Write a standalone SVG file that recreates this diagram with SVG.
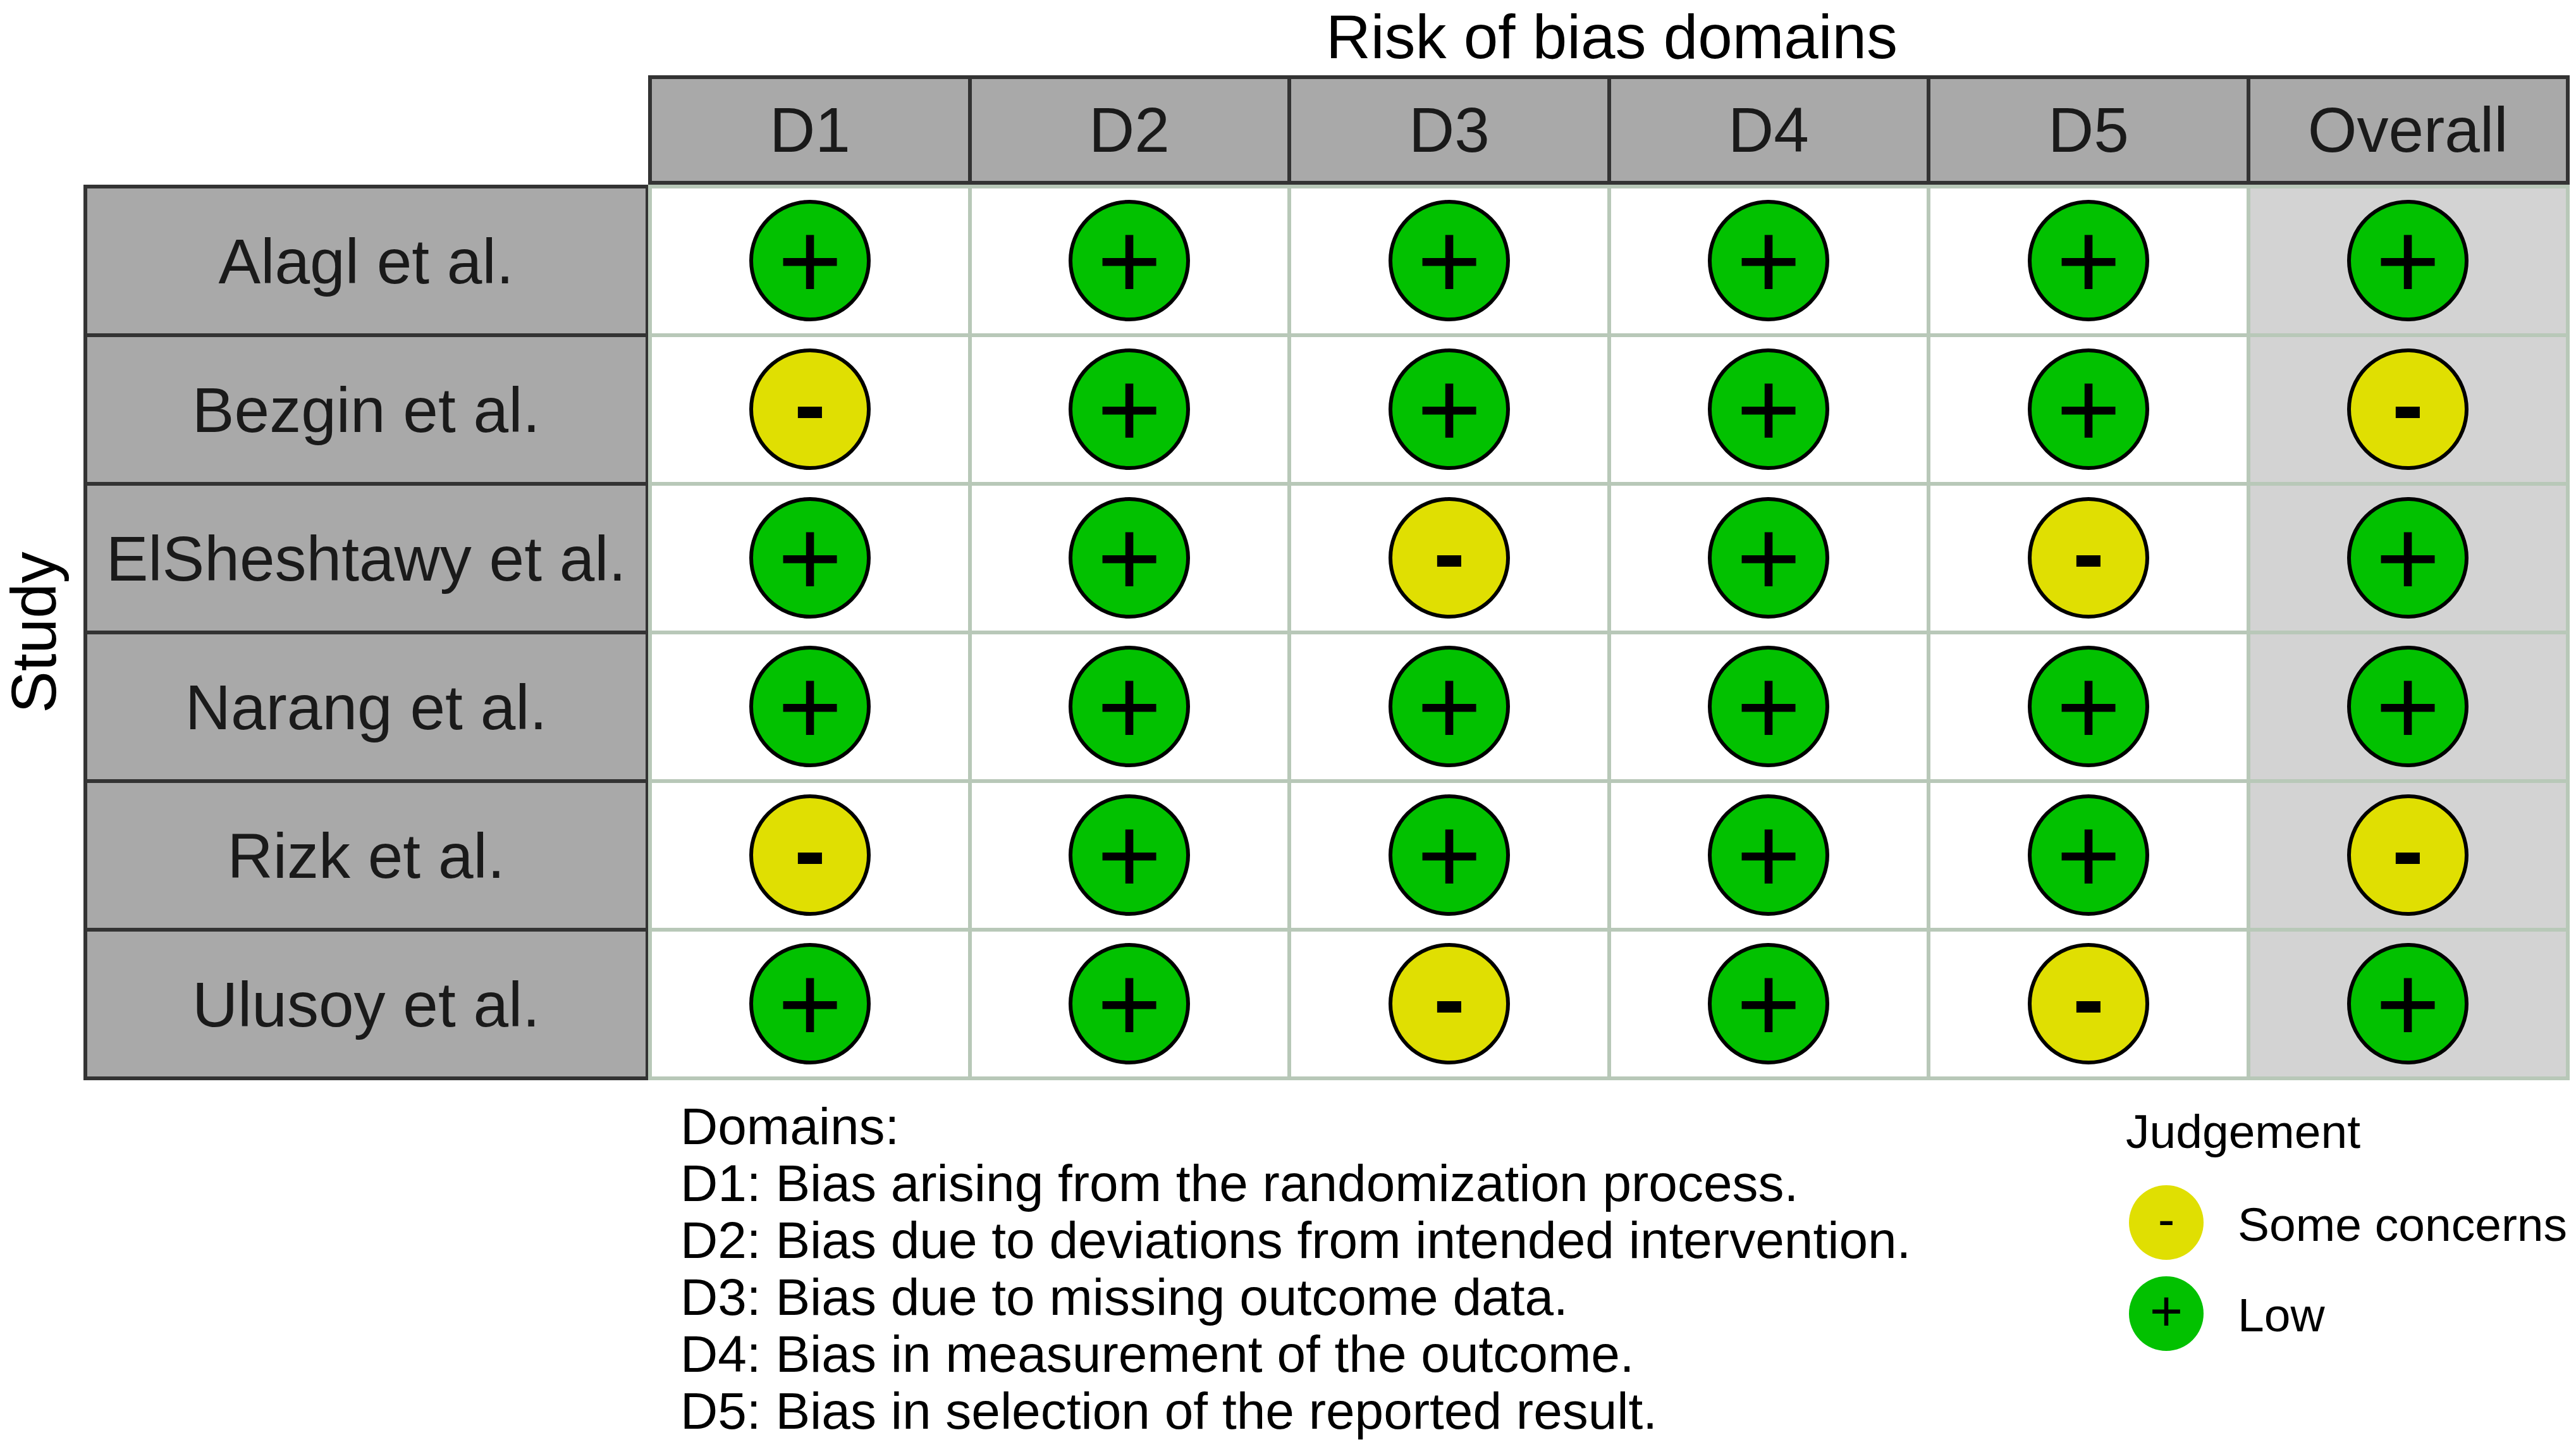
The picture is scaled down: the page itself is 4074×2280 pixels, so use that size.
<svg xmlns="http://www.w3.org/2000/svg" width="4074" height="2280" viewBox="0 0 4074 2280">
<style>
text{font-family:"Liberation Sans",Arial,sans-serif;fill:#1a1a1a}
.hdr{fill:#a9a9a9;stroke:#333;stroke-width:6}
.cell{fill:#fff;stroke:#b8c8b8;stroke-width:6}
.ocell{fill:#d3d3d3;stroke:#b8c8b8;stroke-width:6}
.lbl{font-size:100px;text-anchor:middle}
.g{fill:#02c100;stroke:#000;stroke-width:6}
.y{fill:#e0df02;stroke:#000;stroke-width:6}
.sym{font-size:175px;text-anchor:middle;fill:#000}
.msym{font-size:150px;font-weight:bold;text-anchor:middle;fill:#000}
.leg{font-size:82px;fill:#000}
</style>
<text x="2549" y="92" class="lbl" style="fill:#000;font-size:98px">Risk of bias domains</text>
<text transform="translate(88,1000) rotate(-90)" class="lbl" style="fill:#000;font-size:100px">Study</text>
<g id="headers">
<rect class="hdr" x="1028" y="122" width="506" height="167"/><text class="lbl" x="1281" y="240">D1</text>
<rect class="hdr" x="1534" y="122" width="505" height="167"/><text class="lbl" x="1786" y="240">D2</text>
<rect class="hdr" x="2039" y="122" width="506" height="167"/><text class="lbl" x="2292" y="240">D3</text>
<rect class="hdr" x="2545" y="122" width="505" height="167"/><text class="lbl" x="2797" y="240">D4</text>
<rect class="hdr" x="3050" y="122" width="506" height="167"/><text class="lbl" x="3303" y="240">D5</text>
<rect class="hdr" x="3556" y="122" width="505" height="167"/><text class="lbl" x="3808" y="240">Overall</text>
</g>
<g id="studies">
<rect class="hdr" x="135" y="295" width="889" height="235"/><text class="lbl" x="579" y="448">Alagl et al.</text>
<rect class="hdr" x="135" y="530" width="889" height="235"/><text class="lbl" x="579" y="683">Bezgin et al.</text>
<rect class="hdr" x="135" y="765" width="889" height="235"/><text class="lbl" x="579" y="918">ElSheshtawy et al.</text>
<rect class="hdr" x="135" y="1000" width="889" height="235"/><text class="lbl" x="579" y="1153">Narang et al.</text>
<rect class="hdr" x="135" y="1235" width="889" height="235"/><text class="lbl" x="579" y="1388">Rizk et al.</text>
<rect class="hdr" x="135" y="1470" width="889" height="235"/><text class="lbl" x="579" y="1623">Ulusoy et al.</text>
</g>
<g id="grid">
<rect class="cell" x="1028" y="295" width="2528" height="1410"/>
<rect class="ocell" x="3556" y="295" width="505" height="1410"/>
<path d="M1534 295V1705M2039 295V1705M2545 295V1705M3050 295V1705M1028 530H4061M1028 765H4061M1028 1000H4061M1028 1235H4061M1028 1470H4061" stroke="#b8c8b8" stroke-width="6" fill="none"/>
</g>
<defs>
<g id="P"><circle r="93" class="g"/><text class="sym" y="60">+</text></g>
<g id="M"><circle r="93" class="y"/><text class="msym" y="44">-</text></g>
</defs>
<g id="judgements">
<use href="#P" x="1281" y="412"/><use href="#P" x="1786" y="412"/><use href="#P" x="2292" y="412"/><use href="#P" x="2797" y="412"/><use href="#P" x="3303" y="412"/><use href="#P" x="3808" y="412"/>
<use href="#M" x="1281" y="647"/><use href="#P" x="1786" y="647"/><use href="#P" x="2292" y="647"/><use href="#P" x="2797" y="647"/><use href="#P" x="3303" y="647"/><use href="#M" x="3808" y="647"/>
<use href="#P" x="1281" y="882"/><use href="#P" x="1786" y="882"/><use href="#M" x="2292" y="882"/><use href="#P" x="2797" y="882"/><use href="#M" x="3303" y="882"/><use href="#P" x="3808" y="882"/>
<use href="#P" x="1281" y="1117"/><use href="#P" x="1786" y="1117"/><use href="#P" x="2292" y="1117"/><use href="#P" x="2797" y="1117"/><use href="#P" x="3303" y="1117"/><use href="#P" x="3808" y="1117"/>
<use href="#M" x="1281" y="1352"/><use href="#P" x="1786" y="1352"/><use href="#P" x="2292" y="1352"/><use href="#P" x="2797" y="1352"/><use href="#P" x="3303" y="1352"/><use href="#M" x="3808" y="1352"/>
<use href="#P" x="1281" y="1587"/><use href="#P" x="1786" y="1587"/><use href="#M" x="2292" y="1587"/><use href="#P" x="2797" y="1587"/><use href="#M" x="3303" y="1587"/><use href="#P" x="3808" y="1587"/>
</g>
<g id="domains-legend">
<text class="leg" x="1076" y="1809">Domains:</text>
<text class="leg" x="1076" y="1899">D1: Bias arising from the randomization process.</text>
<text class="leg" x="1076" y="1989">D2: Bias due to deviations from intended intervention.</text>
<text class="leg" x="1076" y="2079">D3: Bias due to missing outcome data.</text>
<text class="leg" x="1076" y="2169">D4: Bias in measurement of the outcome.</text>
<text class="leg" x="1076" y="2259">D5: Bias in selection of the reported result.</text>
</g>
<g id="judgement-legend">
<text class="leg" x="3362" y="1815" style="font-size:75px">Judgement</text>
<circle cx="3426" cy="1933" r="59" fill="#e0df02"/><text x="3426" y="1955" style="font-size:80px;text-anchor:middle;fill:#000">-</text>
<text class="leg" x="3539" y="1962" style="font-size:75px">Some concerns</text>
<circle cx="3426" cy="2077" r="59" fill="#02c100"/><text x="3426" y="2104" style="font-size:90px;text-anchor:middle;fill:#000">+</text>
<text class="leg" x="3539" y="2105" style="font-size:75px">Low</text>
</g>
</svg>
